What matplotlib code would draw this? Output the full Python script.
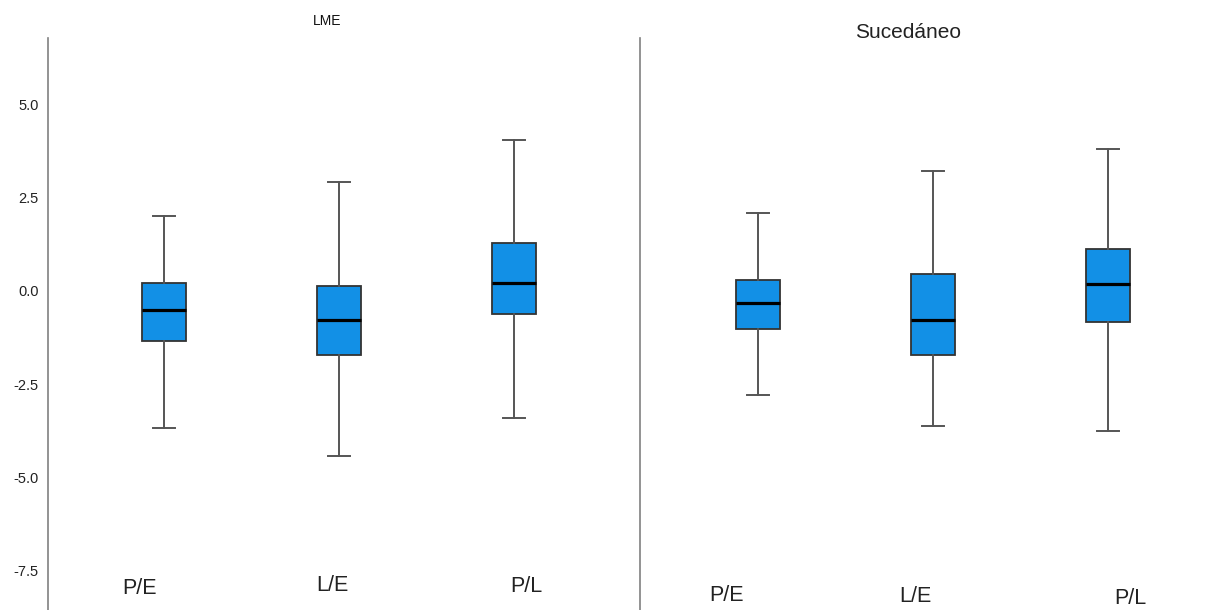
import matplotlib.pyplot as plt

plt.rcParams['font.family'] = ['Liberation Sans', 'DejaVu Sans']

groups = ['LME', 'Sucedáneo']
categories = ['P/E', 'L/E', 'P/L']

# box stats: lower whisker, Q1, median, Q3, upper whisker
lme_stats = [
    [-3.66, -1.34, -0.51, 0.22, 2.02],
    [-4.42, -1.72, -0.79, 0.13, 2.92],
    [-3.40, -0.62, 0.22, 1.28, 4.05],
]
suc_stats = [
    [-2.79, -1.01, -0.33, 0.29, 2.08],
    [-3.63, -1.71, -0.79, 0.45, 3.21],
    [-3.74, -0.84, 0.18, 1.12, 3.81],
]
yticks = [5.0, 2.5, 0.0, -2.5, -5.0, -7.5]

fill = '#1290E6'

fig = plt.figure(figsize=(12.11, 6.10), dpi=100)
ax1 = fig.add_axes([48/1211, 0, 592/1211, 1 - 38/610])
ax2 = fig.add_axes([640/1211, 0, 571/1211, 1 - 38/610])


def to_bxp(rows, names):
    out = []
    for r, n in zip(rows, names):
        out.append(dict(whislo=r[0], q1=r[1], med=r[2], q3=r[3], whishi=r[4], label=n, fliers=[]))
    return out


for ax, stats in [(ax1, lme_stats), (ax2, suc_stats)]:
    ax.bxp(to_bxp(stats, categories), positions=[1, 2, 3], widths=0.25, patch_artist=True,
           showfliers=False, capwidths=0.125,
           boxprops=dict(facecolor=fill, edgecolor='#333333', linewidth=1.3),
           medianprops=dict(color='black', linewidth=2.3),
           whiskerprops=dict(color='#555555', linewidth=1.4),
           capprops=dict(color='#555555', linewidth=1.4))
    ax.set_ylim(-8.55, 6.78)
    for s in ['top', 'right', 'bottom']:
        ax.spines[s].set_visible(False)
    ax.spines['left'].set_color('#808080')
    ax.spines['left'].set_linewidth(1.2)
    ax.set_xticks([])

ax1.set_xlim(1 - 116/175, 1 - 116/175 + 592/175)
ax2.set_xlim(1 - 118/175, 1 - 118/175 + 571/175)

ax1.set_yticks(yticks)
ax1.set_yticklabels([f'{v:.1f}' for v in yticks], fontsize=10.5, color='#222222')
ax1.tick_params(axis='y', length=0, pad=6.5)
ax2.set_yticks([])

# category labels sit near the bottom, slightly off the box centres
lme_label_dx = [-0.14, -0.04, 0.07]
lme_label_y = [-7.98, -7.90, -7.93]
suc_label_dx = [-0.18, -0.10, 0.13]
suc_label_y = [-8.17, -8.20, -8.25]
for i, c in enumerate(categories):
    ax1.text(i + 1 + lme_label_dx[i], lme_label_y[i], c, ha='center', va='center',
             fontsize=15.5, color='#222222')
    ax2.text(i + 1 + suc_label_dx[i], suc_label_y[i], c, ha='center', va='center',
             fontsize=15.5, color='#222222')

fig.text(327/1211, 1 - 21/610, groups[0], ha='center', va='center', fontsize=10, color='#111111')
fig.text(908/1211, 1 - 32/610, groups[1], ha='center', va='center', fontsize=15, color='#222222')

fig.savefig('out.png', dpi=100)
